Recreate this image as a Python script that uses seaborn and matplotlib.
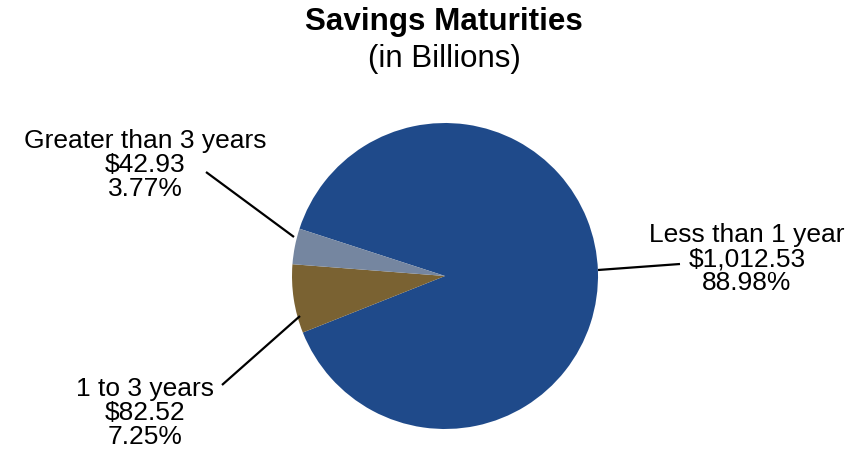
import matplotlib
matplotlib.use("Agg")
import matplotlib.pyplot as plt
import seaborn as sns

sns.set_theme(style="white")
plt.rcParams['font.family'] = ['Liberation Sans', 'DejaVu Sans']

# data (clockwise from the start angle)
categories = ['Less than 1 year', '1 to 3 years', 'Greater than 3 years']
amounts = [1012.53, 82.52, 42.93]
percents = ['88.98%', '7.25%', '3.77%']
colors = ['#1F4A8A', '#7A6232', '#7586A0']

W, H = 865, 458
R = 153.0
cx, cy = 445, H - 276

fig = plt.figure(figsize=(W / 100, H / 100), dpi=100)
ax = fig.add_axes([0, 0, 1, 1])
ax.set_aspect('equal')
ax.axis('off')

ax.pie(amounts, colors=colors, startangle=162, counterclock=False,
       radius=1.0, center=(0, 0), frame=False,
       wedgeprops=dict(linewidth=0))
ax.set_xlim(-cx / R, (W - cx) / R)
ax.set_ylim(-cy / R, (H - cy) / R)

def px(x, y):
    return ((x - cx) / R, (H - y - cy) / R)

# label text position (center) and leader lines, in pixels
label_pos = [(747, 259), (145, 413), (145, 165)]
leaders = [((598, 270), (680, 264)), ((300, 316), (222, 385)), ((294, 237), (206, 172))]

for cat, amt, pct, pos, (p0, p1) in zip(categories, amounts, percents, label_pos, leaders):
    x0, y0 = px(*p0)
    x1, y1 = px(*p1)
    ax.plot([x0, x1], [y0, y1], color='black', lw=1.6, solid_capstyle='butt')
    tx, ty = px(*pos)
    ax.text(tx, ty, f"{cat}\n${amt:,.2f}\n{pct}", ha='center', va='center',
            fontsize=19, linespacing=0.98, color='black')

fig.text(444 / W, 1 - 30 / H, 'Savings Maturities', ha='center', va='baseline',
         fontsize=22.6, fontweight='bold', color='black')
fig.text(444 / W, 1 - 67 / H, '(in Billions)', ha='center', va='baseline',
         fontsize=22.5, color='black')

fig.savefig('out.png', dpi=100, facecolor='white')
